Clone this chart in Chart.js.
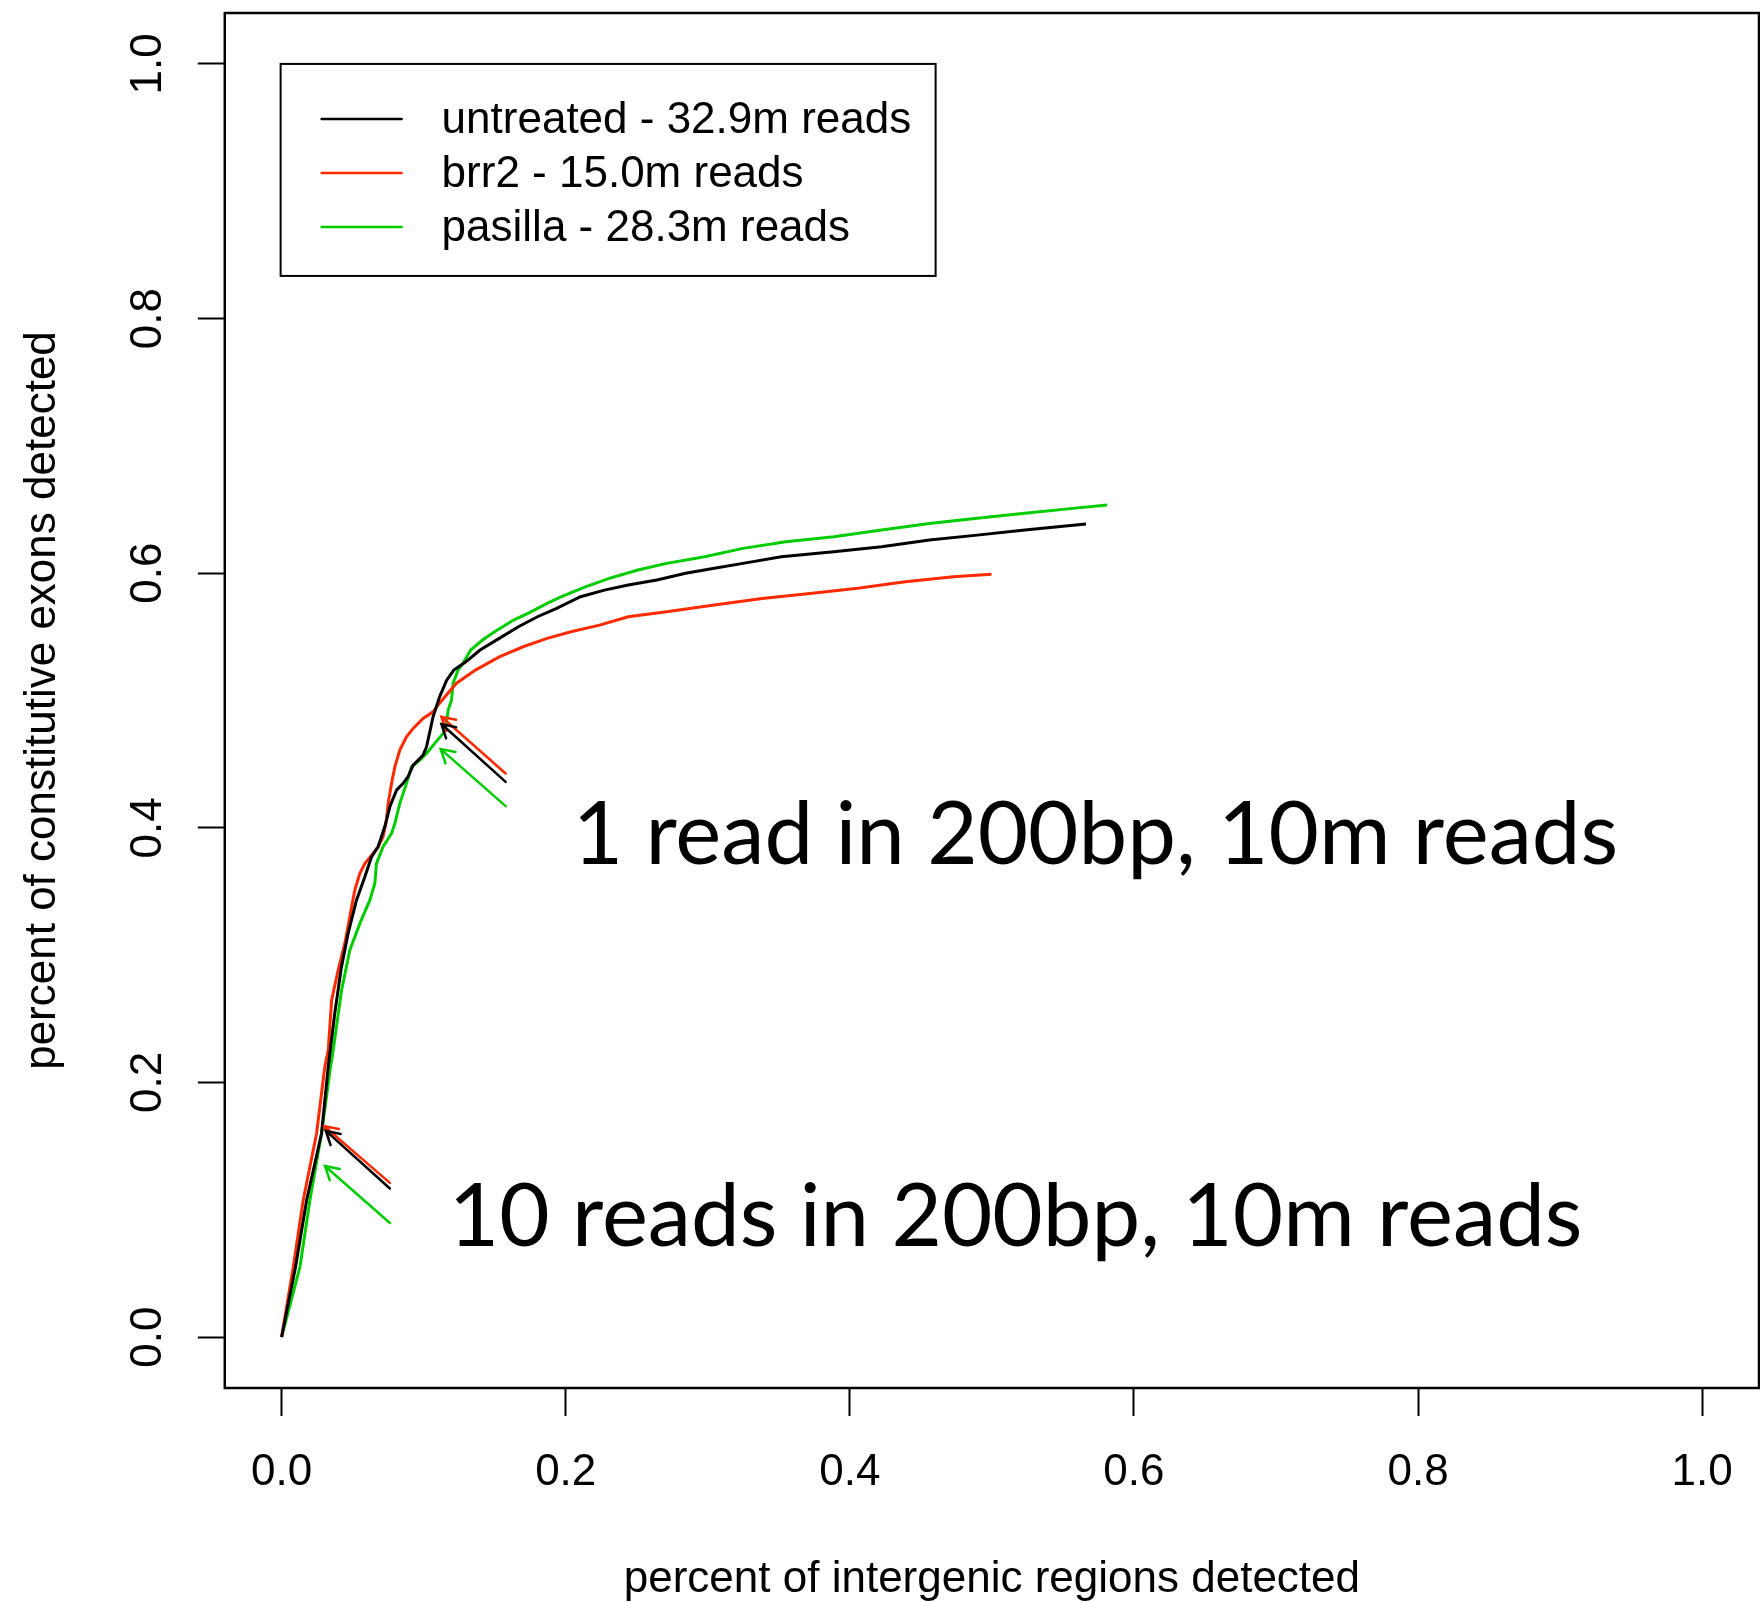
<!DOCTYPE html>
<html>
<head>
<meta charset="utf-8">
<title>exons vs intergenic detection</title>
<script src="https://cdn.jsdelivr.net/npm/chart.js"></script>
<style>
  html, body { margin: 0; padding: 0; background: #fff; }
</style>
</head>
<body>
<canvas id="chart" width="1760" height="1602"></canvas>
<script>
// series labels / colours
const seriesLabels = ['untreated - 32.9m reads', 'brr2 - 15.0m reads', 'pasilla - 28.3m reads'];
const seriesColors = ['#000000', '#ff2a00', '#00cc00'];

// untreated (black)
const untreatedX = [0, 0.0098, 0.0176, 0.0281, 0.0328, 0.0375, 0.0420, 0.0468, 0.0527, 0.0586, 0.0633, 0.0679, 0.0726, 0.0762, 0.0809, 0.0855, 0.0890, 0.0926, 0.0996, 0.1020, 0.1043, 0.1066, 0.1112, 0.1162, 0.1212, 0.1297, 0.1397, 0.1532, 0.1667, 0.1801, 0.1936, 0.2104, 0.2272, 0.2440, 0.2642, 0.2844, 0.3046, 0.3248, 0.3517, 0.3887, 0.4223, 0.4560, 0.4896, 0.5232, 0.5662];
const untreatedY = [0, 0.0551, 0.1075, 0.1599, 0.2122, 0.2550, 0.2900, 0.3170, 0.3432, 0.3615, 0.3772, 0.3851, 0.4008, 0.4165, 0.4296, 0.4349, 0.4401, 0.4492, 0.4571, 0.4636, 0.4754, 0.4872, 0.5029, 0.5160, 0.5239, 0.5304, 0.5396, 0.5488, 0.5579, 0.5658, 0.5724, 0.5815, 0.5867, 0.5907, 0.5946, 0.5999, 0.6038, 0.6077, 0.6129, 0.6168, 0.6208, 0.6260, 0.6299, 0.6339, 0.6386];

// brr2 (red)
const brr2X = [0, 0.0082, 0.0152, 0.0246, 0.0304, 0.0328, 0.0352, 0.0398, 0.0445, 0.0480, 0.0515, 0.0551, 0.0586, 0.0644, 0.0679, 0.0714, 0.0738, 0.0750, 0.0774, 0.0797, 0.0832, 0.0879, 0.0926, 0.0996, 0.1066, 0.1110, 0.1229, 0.1364, 0.1532, 0.1700, 0.1869, 0.2037, 0.2238, 0.2440, 0.2710, 0.3046, 0.3382, 0.3719, 0.4055, 0.4391, 0.4728, 0.4997];
const brr2Y = [0, 0.0551, 0.1075, 0.1599, 0.2122, 0.2253, 0.2646, 0.2882, 0.3092, 0.3301, 0.3510, 0.3642, 0.3720, 0.3799, 0.3851, 0.3929, 0.4060, 0.4192, 0.4349, 0.4479, 0.4610, 0.4715, 0.4781, 0.4859, 0.4911, 0.4977, 0.5134, 0.5239, 0.5343, 0.5422, 0.5488, 0.5540, 0.5592, 0.5658, 0.5697, 0.5750, 0.5802, 0.5841, 0.5881, 0.5933, 0.5972, 0.5991];

// pasilla (green)
const pasillaX = [0, 0.0129, 0.0199, 0.0281, 0.0344, 0.0363, 0.0422, 0.0480, 0.0551, 0.0621, 0.0656, 0.0668, 0.0714, 0.0774, 0.0797, 0.0832, 0.0879, 0.0914, 0.0973, 0.1020, 0.1078, 0.1137, 0.1160, 0.1172, 0.1196, 0.1207, 0.1242, 0.1277, 0.1331, 0.1414, 0.1499, 0.1633, 0.1734, 0.1869, 0.1970, 0.2138, 0.2306, 0.2508, 0.2710, 0.2978, 0.3248, 0.3550, 0.3887, 0.4223, 0.4560, 0.4896, 0.5232, 0.5569, 0.5811];
const pasillaY = [0, 0.0551, 0.1075, 0.1599, 0.2122, 0.2253, 0.2725, 0.3039, 0.3249, 0.3432, 0.3563, 0.3720, 0.3851, 0.3956, 0.4034, 0.4192, 0.4349, 0.4479, 0.4532, 0.4584, 0.4663, 0.4742, 0.4820, 0.4925, 0.5003, 0.5134, 0.5239, 0.5292, 0.5396, 0.5475, 0.5540, 0.5632, 0.5684, 0.5763, 0.5815, 0.5893, 0.5959, 0.6025, 0.6077, 0.6129, 0.6195, 0.6247, 0.6286, 0.6339, 0.6391, 0.6431, 0.6470, 0.6509, 0.6535];

// axis ticks
const xTicks = [0, 0.2, 0.4, 0.6, 0.8, 1.0];
const yTicks = [0, 0.2, 0.4, 0.6, 0.8, 1.0];

// arrows (tail -> head), colour index into seriesColors
const arrowColor = [1, 0, 2, 1, 0, 2];
const arrowFromX = [0.1577, 0.1577, 0.1577, 0.0762, 0.0762, 0.0762];
const arrowFromY = [0.4427, 0.4361, 0.4170, 0.1211, 0.1167, 0.0896];
const arrowToX = [0.1125, 0.1125, 0.1120, 0.0300, 0.0312, 0.0305];
const arrowToY = [0.4872, 0.4815, 0.4618, 0.1656, 0.1620, 0.1344];

// annotation text (left edge / baseline, data units)
const noteText = ['1 read in 200bp, 10m reads', '10 reads in 200bp, 10m reads'];
const noteX = [0.2049, 0.1177];
const noteY = [0.3715, 0.0713];

const pairs = (xs, ys) => xs.map((x, i) => ({ x: x, y: ys[i] }));
const seriesData = [pairs(untreatedX, untreatedY), pairs(brr2X, brr2Y), pairs(pasillaX, pasillaY)];

const FONT = "'Liberation Sans', Arial, sans-serif";

const rPlot = {
  id: 'rPlot',
  afterDatasetsDraw(chart) {
    const { ctx, chartArea: a, scales: { x, y } } = chart;
    ctx.save();

    // arrows
    ctx.lineWidth = 2.5;
    ctx.lineCap = 'round';
    for (let i = 0; i < arrowFromX.length; i++) {
      const x0 = x.getPixelForValue(arrowFromX[i]), y0 = y.getPixelForValue(arrowFromY[i]);
      const x1 = x.getPixelForValue(arrowToX[i]), y1 = y.getPixelForValue(arrowToY[i]);
      const ang = Math.atan2(y0 - y1, x0 - x1);
      const len = 15, spread = Math.PI / 6;
      ctx.strokeStyle = seriesColors[arrowColor[i]];
      ctx.beginPath();
      ctx.moveTo(x0, y0);
      ctx.lineTo(x1, y1);
      ctx.moveTo(x1 + len * Math.cos(ang + spread), y1 + len * Math.sin(ang + spread));
      ctx.lineTo(x1, y1);
      ctx.lineTo(x1 + len * Math.cos(ang - spread), y1 + len * Math.sin(ang - spread));
      ctx.stroke();
    }

    // big annotations
    ctx.fillStyle = '#000';
    ctx.textAlign = 'left';
    ctx.textBaseline = 'alphabetic';
    ctx.font = "87px Lato, 'Open Sans', sans-serif";
    noteText.forEach((t, i) => {
      ctx.fillText(t, x.getPixelForValue(noteX[i]), y.getPixelForValue(noteY[i]));
    });

    // legend, anchored top-left at (0, 1)
    const lx = x.getPixelForValue(0) - 1, ly = y.getPixelForValue(1);
    ctx.lineWidth = 2;
    ctx.strokeStyle = '#000';
    ctx.strokeRect(lx, ly, 655, 212);
    ctx.font = '44px ' + FONT;
    ctx.textBaseline = 'middle';
    chart.data.datasets.forEach((ds, i) => {
      const ry = ly + 55 + i * 54;
      ctx.strokeStyle = ds.borderColor;
      ctx.lineWidth = 2.5;
      ctx.beginPath();
      ctx.moveTo(lx + 41, ry);
      ctx.lineTo(lx + 121, ry);
      ctx.stroke();
      ctx.fillText(ds.label, lx + 161, ry + 2);
    });

    // plot frame
    ctx.strokeStyle = '#000';
    ctx.lineWidth = 2.5;
    ctx.strokeRect(a.left, a.top, a.right - a.left, a.bottom - a.top);
    ctx.restore();
  }
};

const tickFont = { family: FONT, size: 44, lineHeight: 1 };
const noPad = s => { s.paddingTop = 0; s.paddingBottom = 0; s.paddingLeft = 0; s.paddingRight = 0; };

new Chart(document.getElementById('chart').getContext('2d'), {
  type: 'scatter',
  data: {
    datasets: seriesData.map((d, i) => ({
      label: seriesLabels[i],
      data: d,
      showLine: true,
      borderColor: seriesColors[i],
      backgroundColor: seriesColors[i],
      borderWidth: 3,
      pointRadius: 0,
      tension: 0
    }))
  },
  options: {
    responsive: false,
    animation: false,
    devicePixelRatio: 1,
    layout: { padding: { top: 13, right: 1, left: 0, bottom: 0 } },
    plugins: { legend: { display: false }, tooltip: { enabled: false } },
    scales: {
      x: {
        type: 'linear',
        min: -0.04,
        max: 1.04,
        afterBuildTicks: s => { s.ticks = xTicks.map(v => ({ value: v })); },
        afterFit: s => { s.height = 214; noPad(s); },
        ticks: { color: '#000', font: tickFont, padding: 35, maxRotation: 0, callback: v => v.toFixed(1) },
        grid: { drawOnChartArea: false, drawTicks: true, tickLength: 28, tickWidth: 2, tickColor: '#000' },
        border: { display: false },
        title: {
          display: true,
          text: 'percent of intergenic regions detected',
          color: '#000',
          font: { family: FONT, size: 44, lineHeight: 1 },
          padding: { top: 0, bottom: 0 }
        }
      },
      y: {
        type: 'linear',
        min: -0.04,
        max: 1.04,
        afterBuildTicks: s => { s.ticks = yTicks.map(v => ({ value: v })); },
        afterFit: s => { s.width = 224.8; noPad(s); },
        ticks: { color: '#000', font: tickFont, padding: 18, minRotation: 90, maxRotation: 90, crossAlign: 'center', callback: v => v.toFixed(1) },
        grid: { drawOnChartArea: false, drawTicks: true, tickLength: 27, tickWidth: 2, tickColor: '#000' },
        border: { display: false },
        title: {
          display: true,
          text: 'percent of constitutive exons detected',
          color: '#000',
          font: { family: FONT, size: 44, lineHeight: 1 },
          padding: { top: 21, bottom: 0 }
        }
      }
    }
  },
  plugins: [rPlot]
});
</script>
</body>
</html>
